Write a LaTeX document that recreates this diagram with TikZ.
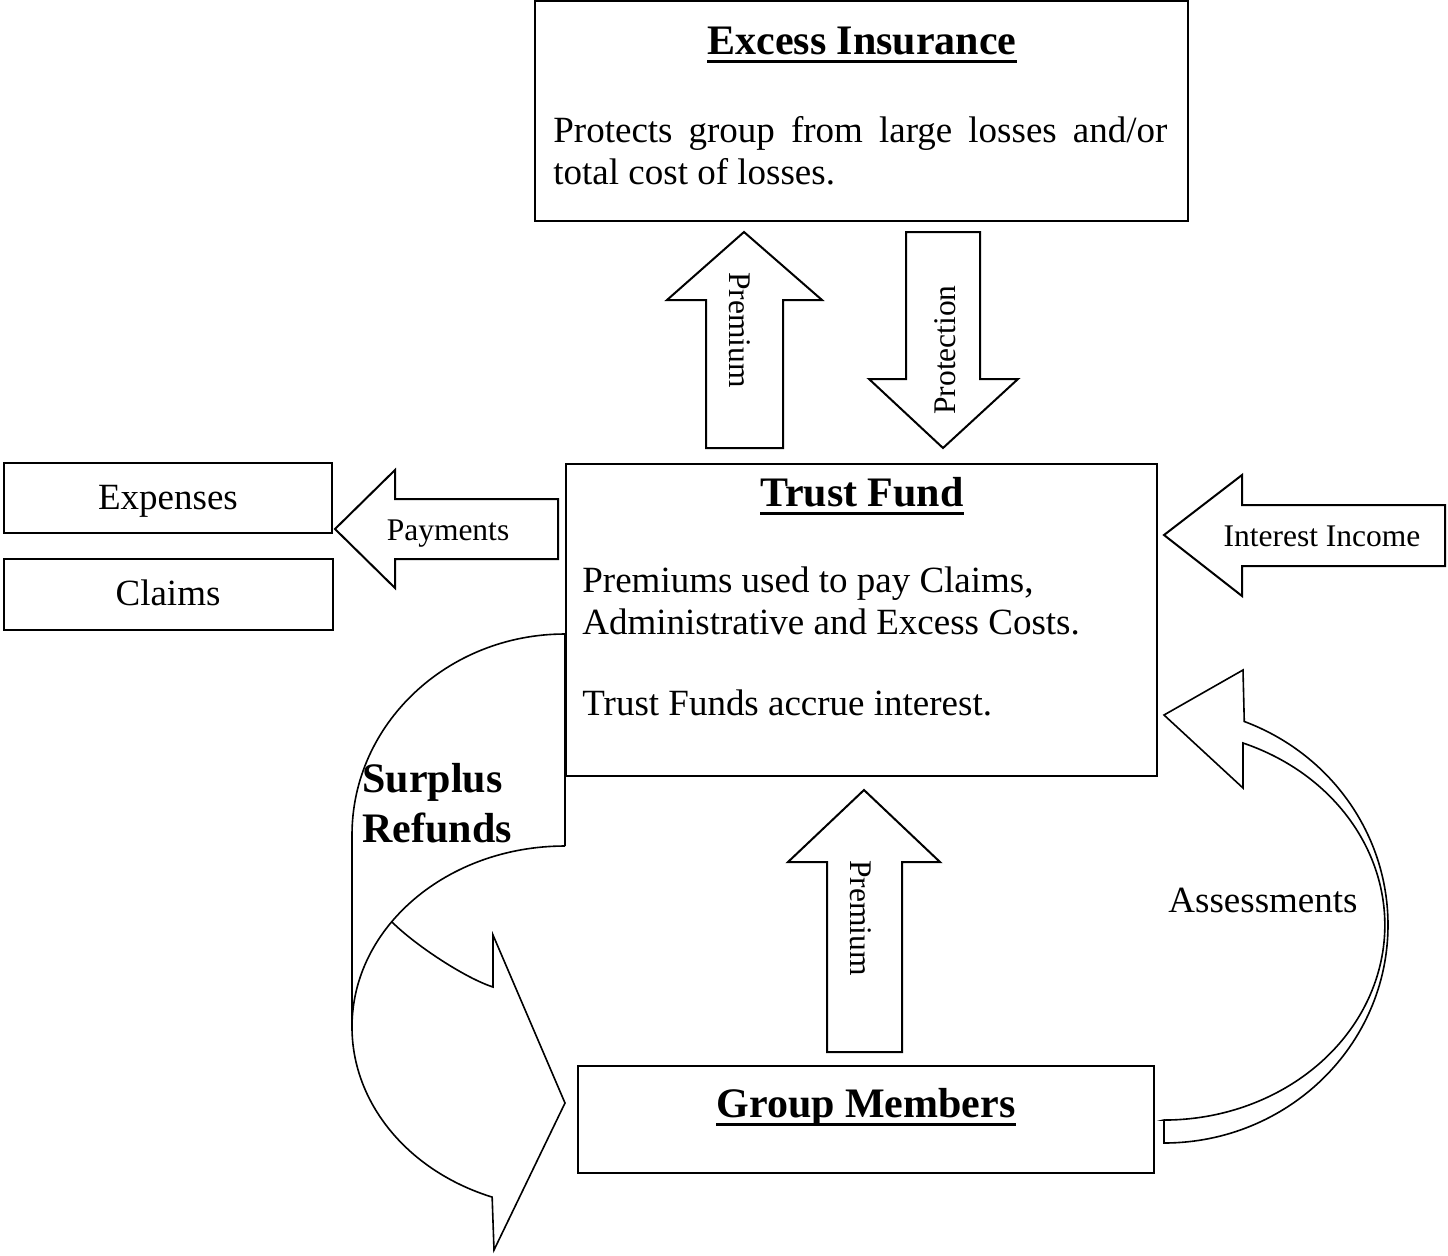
\documentclass[tikz,border=0pt]{standalone}
\usepackage{fontspec}
\setmainfont{Liberation Serif}
\usetikzlibrary{positioning}
\newsavebox{\titlebox}
\newcommand{\titleline}[1]{\sbox{\titlebox}{#1}\rlap{\rule[-4.5pt]{\wd\titlebox}{1.4pt}}\usebox{\titlebox}}

\begin{document}
\begin{tikzpicture}[
    x=0.5pt, y=-0.5pt,
    box/.style={draw, line width=1pt, inner sep=0pt},
    blockarrow/.style={draw, line width=1pt, line join=miter},
    bentarrow/.style={draw, line width=0.8pt},
    title/.style={font=\fontsize{21}{25}\selectfont\bfseries, inner sep=0pt},
    body/.style={font=\fontsize{18.5}{21}\selectfont, inner sep=0pt},
    arrowtext/.style={font=\fontsize{15.75}{18}\selectfont, inner sep=0pt}
]
\useasboundingbox (0,0) rectangle (1448,1255);

% Boxes
\node[box, minimum width=326.5pt, minimum height=110pt] (excess) at (861.5,111) {};
\node[box, minimum width=295.5pt, minimum height=156pt] (trust) at (861.5,620) {};
\node[box, minimum width=288pt, minimum height=53.5pt] (members) at (866,1119.5) {};
\node[box, body, text height=13pt, text depth=2pt, minimum width=164pt, minimum height=35pt] (expenses) at (168,498) {Expenses};
\node[box, body, text height=13pt, text depth=2pt, minimum width=164.5pt, minimum height=35.5pt, below=12pt of expenses] (claims) {Claims};

% Box texts
\node[title, anchor=base] (excesstitle) at (862,54) {\titleline{Excess Insurance}};
\node[body, anchor=base west] (excess1) at (553,142) {\makebox[307pt][s]{Protects group from large losses and/or}};
\node[body, anchor=base west] (excess2) at (553,184) {total cost of losses.};

\node[title, anchor=base] (trusttitle) at (862,506) {\titleline{Trust Fund}};
\node[body, anchor=base west] (trust1) at (582,592) {Premiums used to pay Claims,};
\node[body, anchor=base west] (trust2) at (582,634) {Administrative and Excess Costs.};
\node[body, anchor=base west] (trust3) at (582,715) {Trust Funds accrue interest.};

\node[title, anchor=base] (memberstitle) at (866,1117) {\titleline{Group Members}};

% Block arrows
\draw[blockarrow] (706,448) -- (706,300) -- (667,300) -- (744,232) -- (822,300) -- (783,300) -- (783,448) -- cycle;
\node[arrowtext, rotate=-90] (premiumtop) at (740,330) {Premium};

\draw[blockarrow] (906,232) -- (980,232) -- (980,379) -- (1018,379) -- (943,448) -- (869,379) -- (906,379) -- cycle;
\node[arrowtext, rotate=90] (protection) at (945,350) {Protection};

\draw[blockarrow] (558,499) -- (395,499) -- (395,470) -- (335,529) -- (395,588) -- (395,559) -- (558,559) -- cycle;
\node[arrowtext, anchor=base] (payments) at (448,540) {Payments};

\draw[blockarrow] (1445,505) -- (1242,505) -- (1242,475) -- (1164,535) -- (1242,596) -- (1242,566) -- (1445,566) -- cycle;
\node[arrowtext, anchor=base] (interest) at (1322,546) {Interest Income};

\draw[blockarrow] (827,1052) -- (827,862) -- (788,862) -- (864,790) -- (940,862) -- (902,862) -- (902,1052) -- cycle;
\node[arrowtext, rotate=-90] (premiumbottom) at (861,918) {Premium};

% Surplus refunds
\draw[bentarrow] (565,634) arc[start angle=-90, end angle=-180, x radius=213, y radius=201] -- (352,1027);
\draw[bentarrow] (565,634) -- (565,846);
\draw[bentarrow] (565,846) arc[start angle=-90, end angle=-250, x radius=213, y radius=181]
    -- (494,1250) -- (565,1103) -- (493,935) -- (493,987)
    .. controls (465,978) and (415,945) .. (392,922);
\node[title, anchor=base west] (surplus) at (362,792) {Surplus};
\node[title, anchor=base west] (refunds) at (362,842) {Refunds};

% Assessments
\draw[bentarrow] (1164,1120) -- (1164,1143) arc[start angle=90, end angle=-69, x radius=224, y radius=218]
    -- (1243,670) -- (1164,715) -- (1243,788) -- (1243,743)
    arc[start angle=-69, end angle=90, x radius=221, y radius=195] -- cycle;
\node[body, anchor=base] (assessments) at (1263,912) {Assessments};

\end{tikzpicture}
\end{document}
